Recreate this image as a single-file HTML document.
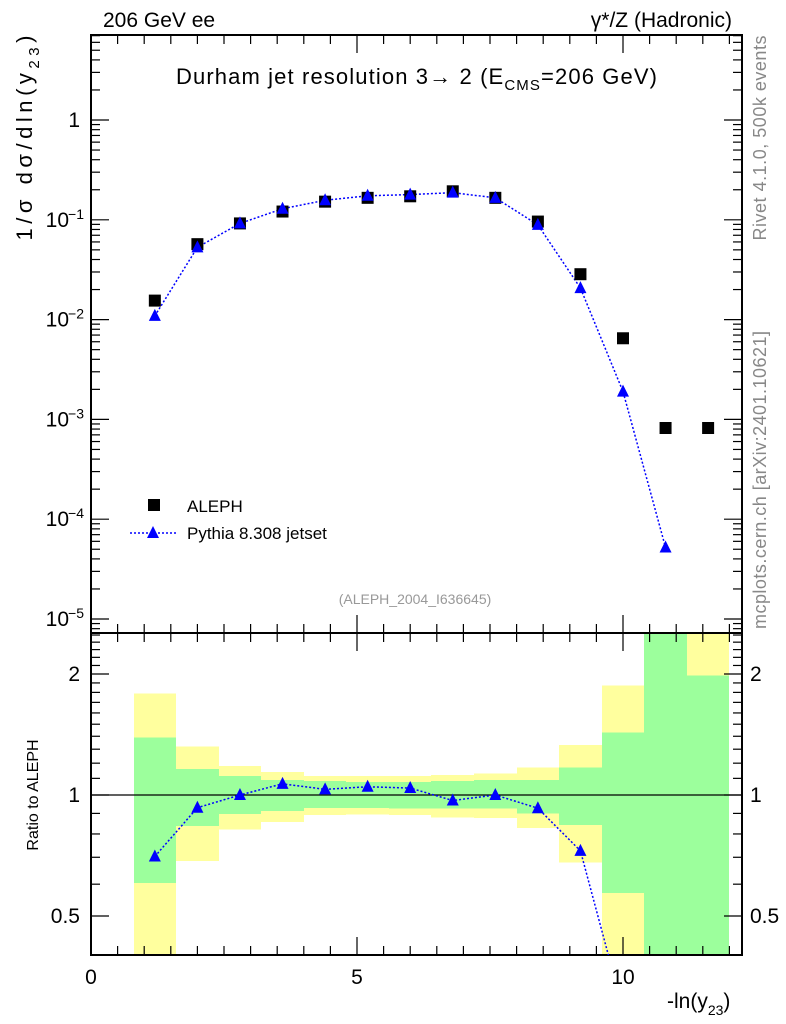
<!DOCTYPE html>
<html><head><meta charset="utf-8"><style>
html,body{margin:0;padding:0;background:#fff;overflow:hidden;width:786px;height:1024px;}
svg{display:block;font-family:"Liberation Sans",sans-serif;}
</style></head><body>
<svg id="c" width="786" height="1024" viewBox="0 0 786 1024"></svg>
<script>
const binEdges=[0.8,1.6,2.4,3.2,4.0,4.8,5.6,6.4,7.2,8.0,8.8,9.6,10.4,11.2,12.0];
const xCenters=[1.2,2.0,2.8,3.6,4.4,5.2,6.0,6.8,7.6,8.4,9.2,10.0,10.8,11.6];
const alephValues=[0.0155,0.057,0.092,0.121,0.152,0.166,0.172,0.193,0.166,0.096,0.0285,0.0065,0.00082,0.00082];
const pythiaValues=[0.0109,0.053,0.092,0.129,0.157,0.174,0.179,0.187,0.166,0.089,0.0207,0.0019,0.000052];
const yellowHi=[1.79,1.32,1.18,1.14,1.115,1.115,1.115,1.12,1.13,1.17,1.33,1.87,3.0,3.0];
const yellowLo=[0.3,0.685,0.82,0.857,0.892,0.895,0.892,0.88,0.877,0.828,0.68,0.3,0.3,0.3];
const greenHi=[1.39,1.16,1.115,1.09,1.083,1.077,1.077,1.083,1.09,1.09,1.17,1.43,3.0,1.98];
const greenLo=[0.604,0.837,0.897,0.912,0.928,0.928,0.926,0.926,0.926,0.9,0.842,0.57,0.3,0.3];
const mainTicks=[["1",0],["10","-1"],["10","-2"],["10","-3"],["10","-4"],["10","-5"]];

const L=91,R=742,T=35,M=633,B=955;
const X=v=>L+v*53.2;
const Y=v=>120-Math.log10(v)*99.8;
const RY=v=>Math.max(M,Math.min(B,795-Math.log10(v)*402));
const s=document.getElementById('c');const NS='http://www.w3.org/2000/svg';
function el(t,a,p){const e=document.createElementNS(NS,t);for(const k in a)e.setAttribute(k,a[k]);(p||s).appendChild(e);return e;}
function tx(x,y,str,a){const e=el('text',Object.assign({x:x,y:y,'font-size':20},a||{}));e.innerHTML=str;return e;}

const defs=el('defs',{});
const cp=el('clipPath',{id:'rc'},defs);
el('rect',{x:L,y:M,width:R-L,height:B-M},cp);

// ratio bands
const gb=el('g',{'shape-rendering':'crispEdges'});
for(let i=0;i<xCenters.length;i++){
 const x0=Math.round(X(binEdges[i])),x1=Math.round(X(binEdges[i+1]));
 const ry=el('rect',{x:x0,y:RY(yellowHi[i]),width:x1-x0,height:RY(yellowLo[i])-RY(yellowHi[i]),fill:'#ffff9e'},gb);
 
}
for(let i=0;i<xCenters.length;i++){
 const x0=Math.round(X(binEdges[i])),x1=Math.round(X(binEdges[i+1]));
 const rg=el('rect',{x:x0,y:RY(greenHi[i]),width:x1-x0,height:RY(greenLo[i])-RY(greenHi[i]),fill:'#9cff9c'},gb);
 
}
const ref=el('line',{x1:L,x2:R,y1:RY(1),y2:RY(1),stroke:'#000','stroke-width':1.2});


// frames
el('rect',{x:L,y:T,width:R-L,height:M-T,fill:'none',stroke:'#000','stroke-width':2});
el('rect',{x:L,y:M,width:R-L,height:B-M,fill:'none',stroke:'#000','stroke-width':2});

// x ticks
for(let v=0;v<=12.2;v+=0.5){
 const big=Math.abs(v%5)<1e-6;const len=big?18:9;
 for(const [yt,yb] of [[T,M],[M,B]]){
  el('line',{x1:X(v),x2:X(v),y1:yt,y2:yt+len,stroke:'#000','stroke-width':1.2});
  el('line',{x1:X(v),x2:X(v),y1:yb,y2:yb-len,stroke:'#000','stroke-width':1.2});
 }
}
[0,5,10].forEach(v=>{const t=tx(X(v),984,String(v),{'text-anchor':'middle','font-size':21});});

// main y ticks
for(let d=-6;d<=0;d++){
 for(let m=1;m<10;m++){
  const v=m*Math.pow(10,d);const y=Y(v);if(y<T||y>M)continue;
  const len=m===1?18:9;
  el('line',{x1:L,x2:L+len,y1:y,y2:y,stroke:'#000','stroke-width':1.2});
  el('line',{x1:R,x2:R-len,y1:y,y2:y,stroke:'#000','stroke-width':1.2});
 }
}
mainTicks.forEach((t,i)=>{
 const y=Y(Math.pow(10,-i))+7;
 const e=tx(t[1]===0?80:69,y,t[0],{'text-anchor':'end','font-size':21});
 if(t[1]!==0){const sp=el('text',{x:84,y:y-8,'font-size':14,'text-anchor':'end'});sp.textContent='\u2212'+String(t[1]).slice(1);}
 
});

// ratio y ticks
[0.4,0.5,0.6,0.7,0.8,0.9,1,1.1,1.2,1.3,1.4,1.5,1.6,1.7,1.8,1.9,2,2.1,2.2,2.3,2.4,2.5].forEach(v=>{
 const y=RY(v);if(y<=M||y>=B)return;const big=(v===0.5||v===1||v===2);const len=big?18:9;
 el('line',{x1:L,x2:L+len,y1:y,y2:y,stroke:'#000','stroke-width':1.2});
 el('line',{x1:R,x2:R-len,y1:y,y2:y,stroke:'#000','stroke-width':1.2});
});
[[2,'2'],[1,'1'],[0.5,'0.5']].forEach(p=>{
 tx(80,RY(p[0])+7,p[1],{'text-anchor':'end','font-size':21});
 tx(750,RY(p[0])+7,p[1],{'font-size':21});
});

// pythia main
const pts=pythiaValues.map((v,i)=>[X(xCenters[i]),Y(v)]);
const pl=el('polyline',{points:pts.map(p=>p.join(',')).join(' '),fill:'none',stroke:'#0000ff','stroke-width':1.5,'stroke-dasharray':'2,2'});

alephValues.forEach((v,i)=>{const r=el('rect',{x:X(xCenters[i])-6,y:Y(v)-6,width:12,height:12,fill:'#000'});
 });
function tri(x,y,p){const t=el('polygon',{points:`${x},${y-7} ${x-6},${y+5} ${x+6},${y+5}`,fill:'#0000ff'},p);return t;}
pts.forEach(p=>{const t=tri(p[0],p[1]);});

// ratio pythia
const rp=pythiaValues.map((v,i)=>[X(xCenters[i]),795-Math.log10(v/alephValues[i])*402]);
const cg=el('g',{'clip-path':'url(#rc)'});
const rl=el('polyline',{points:rp.map(p=>p.join(',')).join(' '),fill:'none',stroke:'#0000ff','stroke-width':1.5,'stroke-dasharray':'2,2'},cg);

rp.forEach(p=>{if(p[1]<B){const t=tri(p[0],p[1],cg);}});

// texts
tx(103,27,'206 GeV ee',{'font-size':21});
tx(732,27,'γ*/Z (Hadronic)',{'text-anchor':'end','font-size':21});
const title=tx(176,84,'Durham jet resolution 3\u2192  2 (E<tspan font-size="15" dy="6">CMS</tspan><tspan dy="-6">=206 GeV)</tspan>',{'font-size':22,textLength:481,lengthAdjust:'spacing'});

const yl=tx(0,0,'1/σ  dσ/dln(y<tspan font-size="15" dy="7">23</tspan><tspan dy="-7">)</tspan>',{transform:'translate(32,138) rotate(-90)','text-anchor':'middle','font-size':22,textLength:205,lengthAdjust:'spacing'});

const rl2=tx(0,0,'Ratio to ALEPH',{transform:'translate(38,795) rotate(-90)','text-anchor':'middle','font-size':16});

const xl=tx(667,1008,'-ln(y<tspan font-size="14" dy="7">23</tspan><tspan dy="-7">)</tspan>',{'font-size':21});

tx(0,0,'Rivet 4.1.0,  500k events',{transform:'translate(766,138) rotate(-90)','text-anchor':'middle',fill:'#888','font-size':18,textLength:205});
tx(0,0,'mcplots.cern.ch [arXiv:2401.10621]',{transform:'translate(766,480) rotate(-90)','text-anchor':'middle',fill:'#888','font-size':18,textLength:298});
tx(415,604,'(ALEPH_2004_I636645)',{'text-anchor':'middle',fill:'#999','font-size':14});
// legend
el('rect',{x:148,y:499,width:12,height:12,fill:'#000'});
tx(187,512,'ALEPH',{'font-size':17});
el('line',{x1:130,x2:176,y1:533,y2:533,stroke:'#0000ff','stroke-width':1.5,'stroke-dasharray':'2,2'});
tri(153,533);
tx(187,539,'Pythia 8.308 jetset',{'font-size':17});
</script>
</body></html>
